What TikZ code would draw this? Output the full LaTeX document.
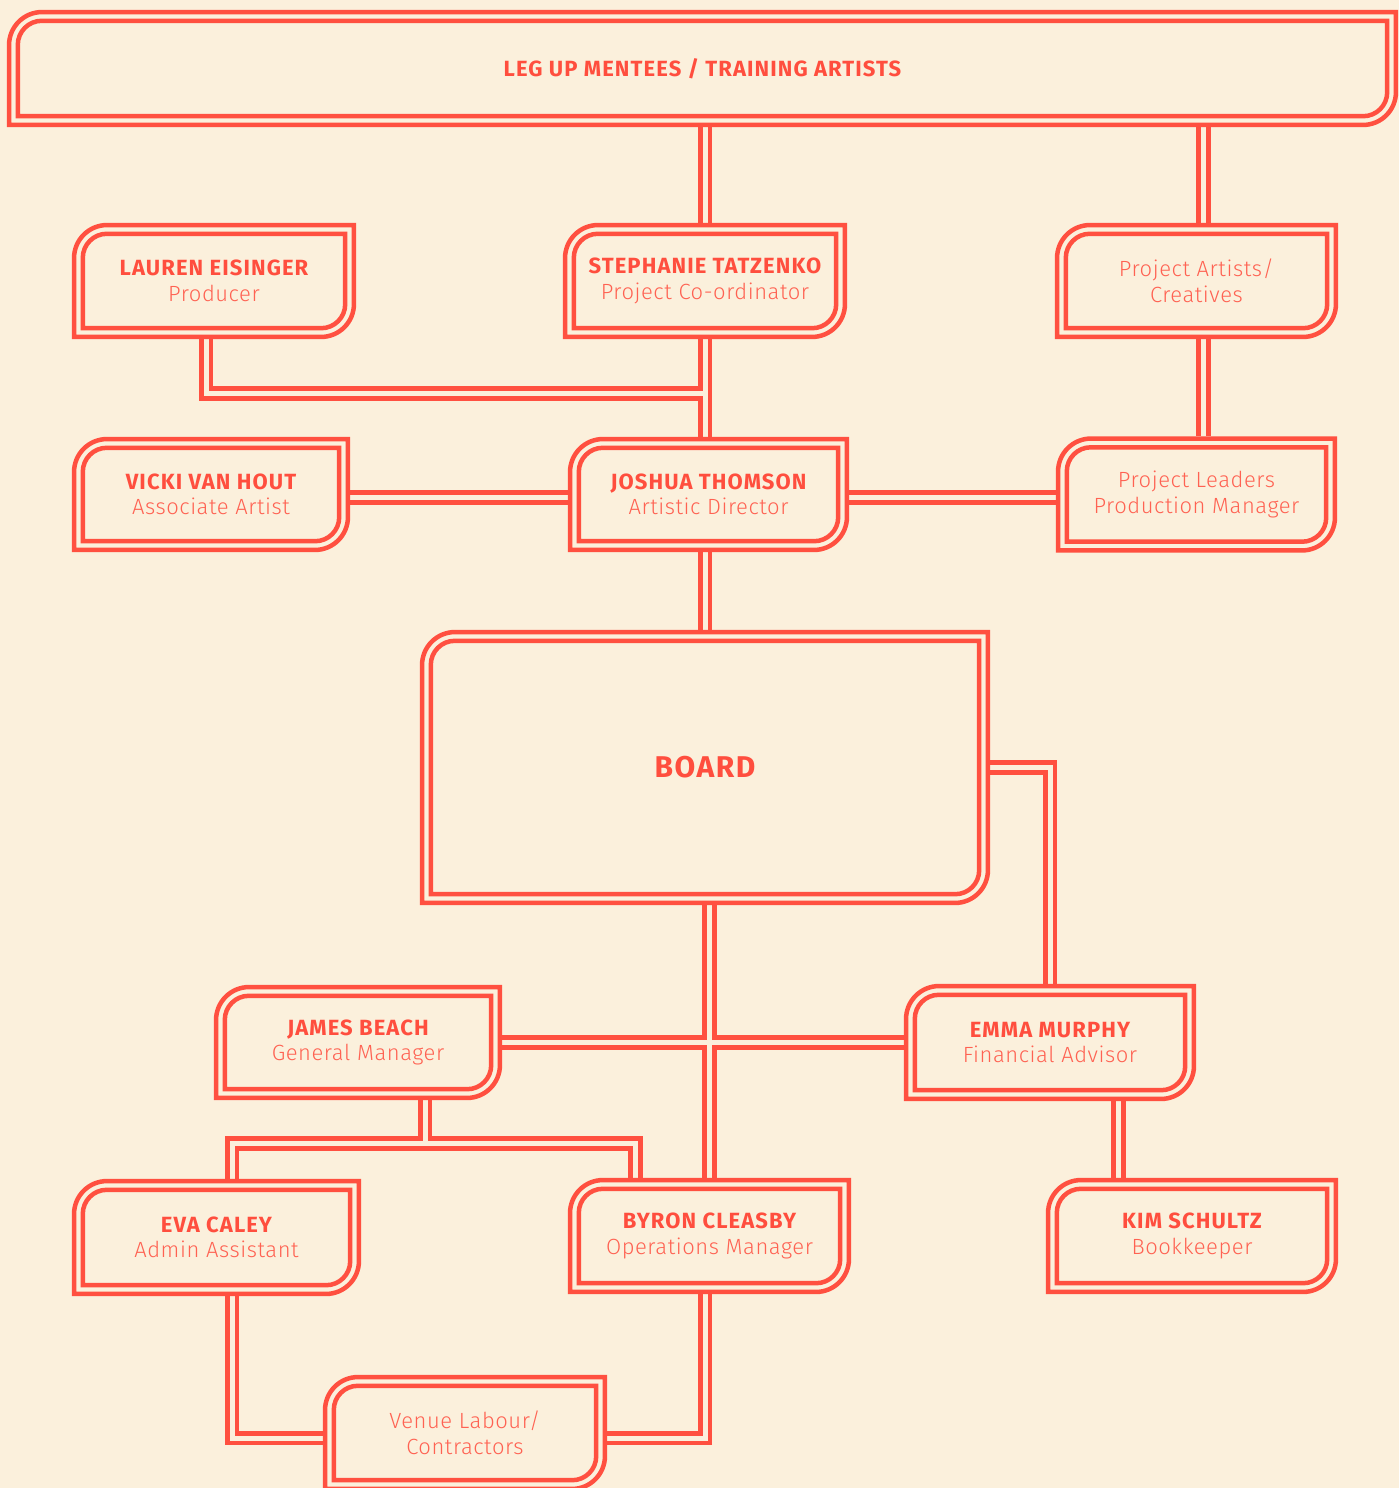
\documentclass[tikz,border=0pt]{standalone}
\usepackage{fontspec}
\setmainfont{Fira Sans}[LetterSpace=5]
\newfontfamily\lightfont{Fira Sans Light}[LetterSpace=2.5]
\usetikzlibrary{calc}
\definecolor{paper}{RGB}{251,240,220}
\definecolor{linec}{RGB}{255,80,64}
\definecolor{namec}{RGB}{255,78,62}
\definecolor{subc}{RGB}{255,98,82}
\pgfdeclarelayer{bgl}\pgfdeclarelayer{conn}\pgfdeclarelayer{boxes}
\pgfsetlayers{bgl,conn,boxes,main}
\newcommand\nm[1]{{\bfseries\color{namec}#1}}
\newcommand\sbt[1]{{\lightfont\color{subc}#1}}
\newcommand\rshape[3]{let \p1=(#1.north west), \p2=(#1.south east) in
 (\x1+#2pt,\y1-#2pt-#3pt) arc[start angle=180,end angle=90,radius=#3pt]
 -- (\x2-#2pt,\y1-#2pt) -- (\x2-#2pt,\y2+#2pt+#3pt)
 arc[start angle=0,end angle=-90,radius=#3pt] -- (\x1+#2pt,\y2+#2pt) -- cycle}
\newcommand\orgoutline[1]{%
 \begin{pgfonlayer}{boxes}
 \fill[paper]\rshape{#1}{2.25}{33};
 \draw[boxline]\rshape{#1}{2.25}{33};
 \draw[boxline]\rshape{#1}{11}{24};
 \end{pgfonlayer}}
\tikzset{
 orgbox/.style 2 args={shape=rectangle, inner sep=0pt, minimum width=#1pt, minimum height=#2pt,
   align=center, font=\fontsize{22}{25.5}\selectfont},
 boxline/.style={draw=linec, line width=4.5pt},
 pipeout/.style={draw=linec, line width=14.5pt, line join=miter},
 pipein/.style={draw=paper, line width=5pt, line join=miter},
}
\newcommand\pipes[1]{%
 \draw[#1] (stephanie.north |- top.south) -- (stephanie.north);
 \draw[#1] (artx |- top.south) -- (artx |- artists.north);
 \draw[#1] (artx) -- (artx |- leaders.north);
 \draw[#1] (stephanie.south) -- (stephanie.south |- joshua.north);
 \draw[#1] (laux) |- (lj);
 \draw[#1] ([yshift=-3pt]vicki.east) -- ([yshift=-3pt]joshua.west);
 \draw[#1] ([yshift=-3pt]joshua.east) -- ([yshift=-3pt]leaders.west);
 \draw[#1] (board.north |- joshua.south) -- (board.north);
 \draw[#1] (byron.north |- board.south) -- (byron.north);
 \draw[#1] (james.east) -- (emma.west);
 \draw[#1] (board.east) -| (emma.north);
 \draw[#1] (js |- james.south) -- (js);
 \draw[#1] (evx) |- (js) -| (byx);
 \draw[#1] (emx) -- (emx |- kim.north);
 \draw[#1] (evx |- eva.south) |- (vl);
 \draw[#1] (byb) |- (vr);
}
\begin{document}
\begin{tikzpicture}[x=1pt,y=1pt]
\useasboundingbox (0,0) rectangle (1399,-1488);
\begin{pgfonlayer}{bgl}
\fill[paper] (0,0) rectangle (1399,-1488);
\end{pgfonlayer}

\node[orgbox={1391}{117}] (top) at (702.5,-68.5) {\nm{LEG UP MENTEES / TRAINING ARTISTS}};
\node[orgbox={284}{116}] (lauren) at (214,-281) {\nm{LAUREN EISINGER}\\\sbt{Producer}};
\node[orgbox={284}{116}] (stephanie) at (705,-281) {\nm{STEPHANIE TATZENKO}\\\sbt{Project Co-ordinator}};
\node[orgbox={283}{116}] (artists) at (1196.5,-281) {\sbt{Project Artists/}\\\sbt{Creatives}};
\node[orgbox={278}{115}] (vicki) at (211,-494.5) {\nm{VICKI VAN HOUT}\\\sbt{Associate Artist}};
\node[orgbox={281}{115}] (joshua) at (708.5,-494.5) {\nm{JOSHUA THOMSON}\\\sbt{Artistic Director}};
\node[orgbox={281}{116}] (leaders) at (1196.5,-494.5) {\sbt{Project Leaders}\\\sbt{Production Manager}};
\node[orgbox={570}{275}, font=\fontsize{30}{34}\selectfont] (board) at (705,-767.5) {\nm{BOARD}};
\node[orgbox={288}{115}] (james) at (358,-1042.5) {\nm{JAMES BEACH}\\\sbt{General Manager}};
\node[orgbox={292}{117}] (emma) at (1050,-1042.5) {\nm{EMMA MURPHY}\\\sbt{Financial Advisor}};
\node[orgbox={289}{117}] (eva) at (216.5,-1237.5) {\nm{EVA CALEY}\\\sbt{Admin Assistant}};
\node[orgbox={283}{116}] (byron) at (709.5,-1236) {\nm{BYRON CLEASBY}\\\sbt{Operations Manager}};
\node[orgbox={292}{116}] (kim) at (1192,-1236) {\nm{KIM SCHULTZ}\\\sbt{Bookkeeper}};
\node[orgbox={284}{116}] (venue) at (465,-1433) {\sbt{Venue Labour/}\\\sbt{Contractors}};

\foreach \bx in {top,lauren,stephanie,artists,vicki,joshua,leaders,board,james,emma,eva,byron,kim,venue}{\expandafter\orgoutline\expandafter{\bx}}

\coordinate (artx) at ([xshift=7pt]artists.south);
\coordinate (laux) at ([xshift=-8pt]lauren.south);
\coordinate (lj) at (705,-393.5);
\coordinate (js) at (425,-1143.5);
\coordinate (evx) at ([xshift=15.5pt]eva.north);
\coordinate (byx) at ([xshift=-74pt]byron.north);
\coordinate (emx) at ([xshift=68.5pt]emma.south);
\coordinate (vl) at ([yshift=-5pt]venue.west);
\coordinate (vr) at ([yshift=-5pt]venue.east);
\coordinate (byb) at ([xshift=-4.5pt]byron.south);

\begin{pgfonlayer}{conn}
\pipes{pipeout}
\pipes{pipein}
\end{pgfonlayer}
\end{tikzpicture}
\end{document}
